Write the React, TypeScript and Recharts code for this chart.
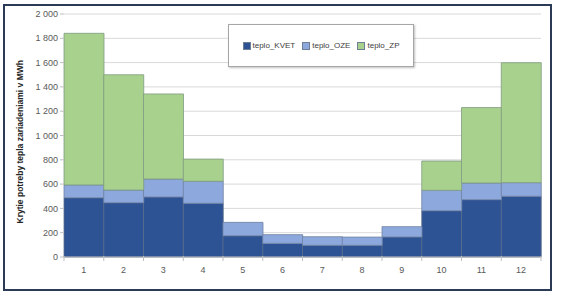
import { BarChart, Bar, XAxis, YAxis, CartesianGrid } from 'recharts';

const months = ['1', '2', '3', '4', '5', '6', '7', '8', '9', '10', '11', '12'];
const teploKvet = [488, 447, 494, 442, 175, 112, 96, 96, 165, 381, 472, 500];
const teploOze = [105, 104, 148, 181, 110, 72, 71, 68, 85, 168, 137, 112];
const teploZp = [1248, 949, 700, 183, 0, 0, 0, 0, 0, 241, 621, 987];
const yTicks = [0, 200, 400, 600, 800, 1000, 1200, 1400, 1600, 1800, 2000];

const seriesNames = ['teplo_KVET', 'teplo_OZE', 'teplo_ZP'];
const seriesColors = ['#2E5395', '#8DA8DC', '#A9D18E'];

const data = months.map((m, i) => ({
  month: m,
  kvet: teploKvet[i],
  oze: teploOze[i],
  zp: teploZp[i],
}));

const W = 564;
const H = 298;
const margin = { top: 14, right: 23, bottom: 11, left: 14 };
const yAxisW = 50;
const band = (W - margin.left - margin.right - yAxisW) / months.length;

const font = 'Liberation Sans, Arial, sans-serif';

const fmt = (v: number) => (v >= 1000 ? `${Math.floor(v / 1000)} ${String(v % 1000).padStart(3, '0')}` : String(v));

// Excel-style category axis: tick marks sit between the categories
function MonthTick(props: any) {
  const { x, y, payload, index } = props;
  const half = band / 2;
  return (
    <g>
      <line x1={x - half} x2={x - half} y1={y - 8} y2={y - 3} stroke="#bfbfbf" />
      {index === months.length - 1 && <line x1={x + half} x2={x + half} y1={y - 8} y2={y - 3} stroke="#bfbfbf" />}
      <text x={x} y={y + 9} textAnchor="middle" fontSize={9} fill="#595959" fontFamily={font}>
        {payload.value}
      </text>
    </g>
  );
}

function LegendBox() {
  return (
    <div
      style={{
        position: 'absolute',
        left: 228,
        top: 24,
        width: 186,
        height: 43,
        border: '1px solid #a6a6a6',
        background: '#fff',
        boxShadow: '1px 1px 2px rgba(0,0,0,0.25)',
        boxSizing: 'border-box',
        display: 'flex',
        alignItems: 'center',
        justifyContent: 'center',
        gap: 7,
        fontFamily: font,
        fontSize: 8,
        color: '#404040',
      }}
    >
      {seriesNames.map((n, i) => (
        <span key={n} style={{ display: 'flex', alignItems: 'center' }}>
          <span
            style={{
              display: 'inline-block',
              width: 6,
              height: 6,
              background: seriesColors[i],
              border: '0.5px solid #6e7f95',
              marginRight: 2,
            }}
          />
          {n}
        </span>
      ))}
    </div>
  );
}

export default function App() {
  return (
    <div style={{ position: 'absolute', left: 0, top: 0, width: W, height: H, background: '#fff' }}>
      <div
        style={{
          position: 'absolute',
          left: 3,
          top: 4,
          width: 549,
          height: 287,
          border: '2px solid #2b3a55',
          boxSizing: 'border-box',
        }}
      />
      <div style={{ position: 'absolute', left: 0, top: 0 }}>
        <BarChart width={W} height={H} data={data} margin={margin} barCategoryGap={0}>
          <CartesianGrid vertical={false} stroke="#d9d9d9" />
          <XAxis
            dataKey="month"
            height={30}
            tickLine={false}
            axisLine={{ stroke: '#bfbfbf' }}
            tickSize={5}
            interval={0}
            tick={<MonthTick />}
          />
          <YAxis
            width={yAxisW}
            domain={[0, 2000]}
            ticks={yTicks}
            tickFormatter={fmt}
            axisLine={false}
            tickLine={{ stroke: '#bfbfbf' }}
            tickSize={4}
            tick={{ fontSize: 9, fill: '#595959', fontFamily: font }}
            label={{
              value: 'Krytie potreby tepla zariadeniami v MWh',
              angle: -90,
              position: 'insideLeft',
              offset: 6,
              dy: 88,
              style: { fontSize: 8.5, fontWeight: 'bold', fill: '#262626', fontFamily: font },
            }}
          />
          <Bar dataKey="kvet" name={seriesNames[0]} stackId="a" fill={seriesColors[0]} stroke="#5b6e8c" strokeWidth={0.8} isAnimationActive={false} />
          <Bar dataKey="oze" name={seriesNames[1]} stackId="a" fill={seriesColors[1]} stroke="#6e82a3" strokeWidth={0.8} isAnimationActive={false} />
          <Bar dataKey="zp" name={seriesNames[2]} stackId="a" fill={seriesColors[2]} stroke="#7f9a80" strokeWidth={0.8} isAnimationActive={false} />
        </BarChart>
      </div>
      <LegendBox />
    </div>
  );
}
